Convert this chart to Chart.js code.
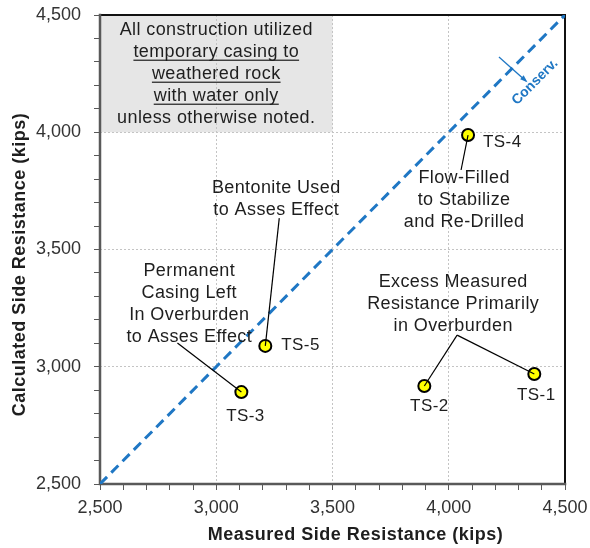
<!DOCTYPE html>
<html>
<head>
<meta charset="utf-8">
<script src="https://cdn.jsdelivr.net/npm/chart.js@4.4.1/dist/chart.umd.min.js"></script>
<style>
  html,body{margin:0;padding:0;background:#fff;}
  #wrap{width:590px;height:548px;position:relative;}
</style>
</head>
<body>
<div id="wrap"><canvas id="chart" width="590" height="548"></canvas></div>
<script>
// Test shafts: measured vs calculated side resistance (kips)
const shafts = ['TS-1','TS-2','TS-3','TS-4','TS-5'];
const measured = [4368, 3895, 3108, 4083, 3211];
const calculated = [2969, 2918, 2892, 3988, 3089];
// 1:1 line
const equalX = [2500, 4500];
const equalY = [2500, 4500];
const axisMin = 2500, axisMax = 4500;
const xTitle = 'Measured Side Resistance (kips)';
const yTitle = 'Calculated Side Resistance (kips)';

const FONT = "'Liberation Sans', Arial, sans-serif";
const TEXT = '#1e1e1e';
const BLUE = '#1f77c4';

// notes in data units; offsets for shaft labels in px
const noteBox = {x0:2500, x1:3500, y0:4000, y1:4500};
const noteLines = ['All construction utilized','temporary casing to','weathered rock','with water only','unless otherwise noted.'];
const noteUnderline = [false,true,true,true,false];
const callouts = [
  {lines:['Bentonite Used','to Asses Effect'], x:3258, y:3717},
  {lines:['Permanent','Casing Left','In Overburden','to Asses Effect'], x:2884, y:3269},
  {lines:['Flow-Filled','to Stabilize','and Re-Drilled'], x:4066, y:3711},
  {lines:['Excess Measured','Resistance Primarily','in Overburden'], x:4019, y:3268},
];
// leader lines: shaft index -> end point
const leaders = [
  {i:3, x:4053, y:3839},
  {i:4, x:3271, y:3634},
  {i:2, x:2833, y:3101},
  {i:1, x:4036, y:3135},
  {i:0, x:4036, y:3135},
];
const shaftLabelPos = [
  {dx:2, dy:21, align:'center'},
  {dx:5, dy:20, align:'center'},
  {dx:4, dy:24, align:'center'},
  {dx:15, dy:7, align:'left'},
  {dx:16, dy:-1, align:'left'},
];

function drawLines(ctx, lines, cx, cy, lh){
  const top = cy - (lines.length-1)*lh/2;
  lines.forEach((t,k)=>ctx.fillText(t, cx, top + k*lh));
}

const notesPlugin = {
  id:'notes',
  beforeDraw(chart){
    const {ctx, scales:{x,y}} = chart;
    const l = x.getPixelForValue(noteBox.x0), r = x.getPixelForValue(noteBox.x1);
    const t = y.getPixelForValue(noteBox.y1), b = y.getPixelForValue(noteBox.y0);
    ctx.save();
    ctx.fillStyle = '#e6e6e6';
    ctx.fillRect(l, t, r-l, b-t);
    ctx.restore();
  },
  beforeDatasetsDraw(chart){
    const {ctx, chartArea:a} = chart;
    ctx.save();
    ctx.lineCap = 'square';
    ctx.strokeStyle = '#111';
    ctx.lineWidth = 2;
    ctx.beginPath();
    ctx.moveTo(a.left, a.top); ctx.lineTo(a.right, a.top); ctx.lineTo(a.right, a.bottom);
    ctx.stroke();
    ctx.strokeStyle = '#595959';
    ctx.lineWidth = 2.5;
    ctx.beginPath();
    ctx.moveTo(a.left, a.top); ctx.lineTo(a.left, a.bottom); ctx.lineTo(a.right, a.bottom);
    ctx.stroke();
    ctx.restore();
  },
  afterDatasetDraw(chart, args){
    if(args.index !== 0) return;
    const {ctx, scales:{x,y}} = chart;
    ctx.save();
    ctx.strokeStyle = '#000';
    ctx.lineWidth = 1.2;
    leaders.forEach(d=>{
      ctx.beginPath();
      ctx.moveTo(x.getPixelForValue(measured[d.i]), y.getPixelForValue(calculated[d.i]));
      ctx.lineTo(x.getPixelForValue(d.x), y.getPixelForValue(d.y));
      ctx.stroke();
    });
    // "Conserv." arrow across the 1:1 line
    const ax0 = x.getPixelForValue(4216), ay0 = y.getPixelForValue(4321);
    const ax1 = x.getPixelForValue(4332), ay1 = y.getPixelForValue(4219);
    ctx.strokeStyle = BLUE; ctx.fillStyle = BLUE; ctx.lineWidth = 1.3;
    ctx.beginPath(); ctx.moveTo(ax0, ay0); ctx.lineTo(ax1, ay1); ctx.stroke();
    const ang = Math.atan2(ay1-ay0, ax1-ax0);
    ctx.beginPath();
    ctx.moveTo(ax1+2*Math.cos(ang), ay1+2*Math.sin(ang));
    ctx.lineTo(ax1-6*Math.cos(ang-0.45), ay1-6*Math.sin(ang-0.45));
    ctx.lineTo(ax1-6*Math.cos(ang+0.45), ay1-6*Math.sin(ang+0.45));
    ctx.closePath(); ctx.fill();
    ctx.restore();
  },
  afterDatasetsDraw(chart){
    const {ctx, scales:{x,y}, chartArea:a} = chart;
    ctx.save();
    ctx.fillStyle = TEXT;
    ctx.textBaseline = 'middle';
    ctx.textAlign = 'center';
    ctx.font = '18px ' + FONT;
    ctx.letterSpacing = '0.4px';
    // note box text
    const cx = x.getPixelForValue((noteBox.x0+noteBox.x1)/2);
    const cy = (y.getPixelForValue(noteBox.y0)+y.getPixelForValue(noteBox.y1))/2;
    const lh = 22;
    const top = cy - (noteLines.length-1)*lh/2;
    noteLines.forEach((t,k)=>{
      const ty = top + k*lh;
      ctx.fillText(t, cx, ty);
      if(noteUnderline[k]){
        const w = ctx.measureText(t).width;
        ctx.fillRect(cx - w/2, ty + 8, w, 1.2);
      }
    });
    callouts.forEach(c=>drawLines(ctx, c.lines, x.getPixelForValue(c.x), y.getPixelForValue(c.y), 22));
    // shaft labels
    ctx.font = '17px ' + FONT;
    shafts.forEach((s,i)=>{
      const p = shaftLabelPos[i];
      ctx.textAlign = p.align;
      ctx.fillText(s, x.getPixelForValue(measured[i]) + p.dx, y.getPixelForValue(calculated[i]) + p.dy);
    });
    // axis titles (sit a little off-centre in the original)
    ctx.textAlign = 'center';
    ctx.font = 'bold 18px ' + FONT;
    ctx.letterSpacing = '0.5px';
    ctx.fillText(xTitle, (a.left + a.right)/2 + 23, 535);
    ctx.save();
    ctx.translate(20, (a.top + a.bottom)/2 + 15);
    ctx.rotate(-Math.PI/2);
    ctx.fillText(yTitle, 0, 0);
    ctx.restore();
    // Conserv.
    ctx.save();
    ctx.letterSpacing = '0px';
    ctx.translate(x.getPixelForValue(4371), y.getPixelForValue(4214));
    ctx.rotate(-Math.PI/4);
    ctx.fillStyle = BLUE;
    ctx.font = 'bold 14px ' + FONT;
    ctx.fillText('Conserv.', 0, 0);
    ctx.restore();
    ctx.restore();
  }
};

function gridColor(c){
  const v = c.tick && c.tick.value;
  return (v % 500 === 0 && v > axisMin && v < axisMax) ? '#c4c4c4' : 'rgba(0,0,0,0)';
}
function tickLabel(v){
  return v % 500 === 0 ? v.toLocaleString('en-US') : '';
}

const axisCommon = {
  type:'linear', min:axisMin, max:axisMax,
  grid:{color:gridColor, lineWidth:1, tickColor:'#595959', tickLength:6, tickWidth:1},
  border:{display:false, dash:[2,2]},
};

new Chart(document.getElementById('chart'), {
  type:'scatter',
  data:{
    datasets:[
      {
        data:equalX.map((v,i)=>({x:v, y:equalY[i]})),
        showLine:true, borderColor:BLUE, borderWidth:3, borderDash:[10,6],
        pointRadius:0, fill:false
      },
      {
        data:measured.map((v,i)=>({x:v, y:calculated[i]})),
        pointRadius:6, pointBorderWidth:2,
        pointBackgroundColor:'#ffff00', pointBorderColor:'#000'
      }
    ]
  },
  options:{
    responsive:false, animation:false,
    layout:{padding:{top:15, right:25, left:0, bottom:0}},
    plugins:{legend:{display:false}, tooltip:{enabled:false}},
    scales:{
      x:{...axisCommon,
        ticks:{stepSize:100, maxTicksLimit:50, autoSkip:false, maxRotation:0, padding:7,
          color:'#333', font:{family:FONT, size:18}, callback:tickLabel},
        title:{display:false, text:xTitle},
        afterFit(s){ s.height = 64; s.paddingLeft = 0; s.paddingRight = 0; }
      },
      y:{...axisCommon,
        ticks:{stepSize:100, maxTicksLimit:50, autoSkip:false, padding:13,
          color:'#333', font:{family:FONT, size:18}, callback:tickLabel},
        title:{display:false, text:yTitle},
        afterFit(s){ s.width = 100; s.paddingTop = 0; s.paddingBottom = 0; }
      }
    }
  },
  plugins:[notesPlugin]
});
</script>
</body>
</html>
